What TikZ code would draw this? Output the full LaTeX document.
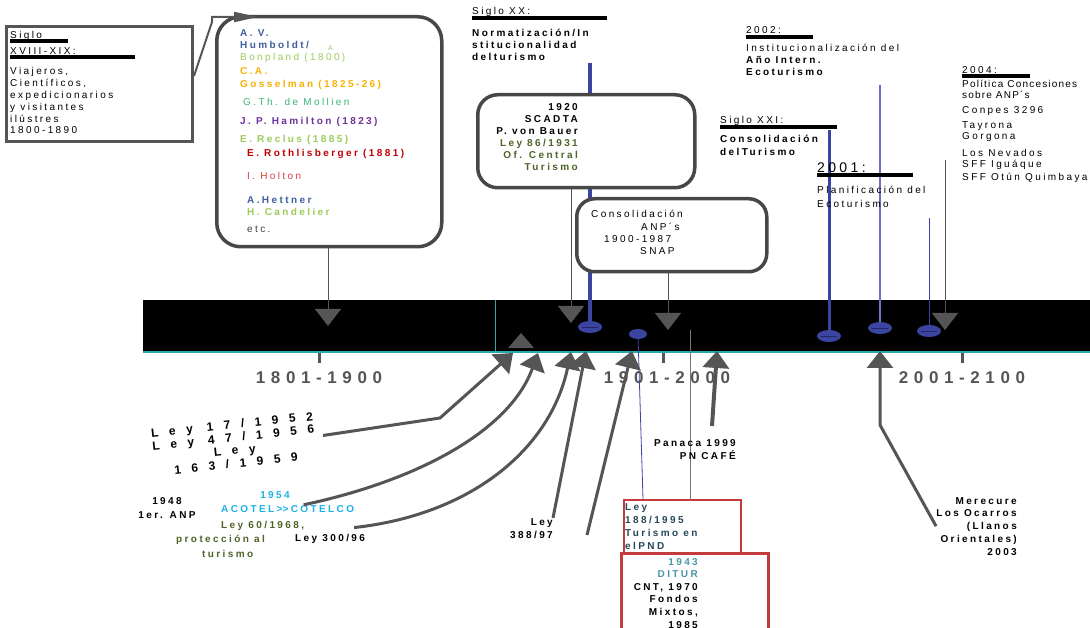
\documentclass[tikz,border=0pt]{standalone}
\usepackage{fontspec}
\setmainfont{Liberation Sans}[LetterSpace=24]
\usetikzlibrary{arrows.meta}
\usetikzlibrary{positioning}

\definecolor{boxgray}{HTML}{555555}
\definecolor{pinblue}{HTML}{3B44A0}
\definecolor{pinlight}{HTML}{6A72C4}
\definecolor{tealline}{HTML}{2AA8A8}
\definecolor{avblue}{HTML}{3F5F9F}
\definecolor{lgreen}{HTML}{9BCC5A}
\definecolor{gold}{HTML}{F9B200}
\definecolor{mgreen}{HTML}{3CB878}
\definecolor{purp}{HTML}{7030A0}
\definecolor{dred}{HTML}{C00000}
\definecolor{lred}{HTML}{E03C3C}
\definecolor{olivec}{HTML}{4F6228}
\definecolor{cyanc}{HTML}{1AB0E8}
\definecolor{boxred}{HTML}{C43C3E}
\definecolor{tealt}{HTML}{4A96A8}
\definecolor{tealdk}{HTML}{24485A}

\newcommand{\sz}{\fontsize{10}{12}\selectfont}

\begin{document}
\begin{tikzpicture}[x=1pt, y=-1pt,
		lbl/.style={anchor=base west, inner sep=0pt, font=\sz},
		lblb/.style={lbl, font=\sz\bfseries},
		lblr/.style={anchor=base east, inner sep=0pt, font=\sz\bfseries, align=right},
		yr/.style={anchor=base, inner sep=0pt, text=boxgray,
			font=\fontsize{17}{20}\selectfont\bfseries\addfontfeatures{LetterSpace=33}},
		bar/.style={line width=3.2pt},
		sbox/.style={draw=boxgray, line width=3pt, fill=white, inner sep=0pt},
		callout/.style={sbox, draw=black!72, line width=3.5pt, rounded corners=24pt},
		redbox/.style={draw=boxred, line width=2.5pt, fill=white, inner sep=0pt},
		conn/.style={boxgray, line width=1pt, -{Triangle[length=17pt,width=26pt]}},
		fat/.style={conn, line width=3pt}]
	
	\useasboundingbox (0,0) rectangle (1090,628);
	
	% time band
	\fill[black] (143,300) rectangle (1090,352);
	\draw[tealline, line width=1.5pt] (143,352) -- (1090,352);
	\draw[tealline, line width=1pt] (495,300) -- (495,352);
	\foreach \tx in {319,663,962}
	\draw[boxgray, line width=3pt] (\tx,353) -- (\tx,363);
	\node[yr] (c19) at (319,384) {1801-1900};
	\node[yr] (c20) at (667,384) {1901-2000};
	\node[yr] (c21) at (962,384) {2001-2100};
	
	% poles
	\draw[pinblue, line width=3.5pt] (590,63) -- (590,327);
	\draw[pinblue, line width=3pt] (829,130) -- (829,336);
	\draw[pinlight, line width=1.5pt] (880,85) -- (880,328);
	\draw[pinblue, line width=1pt] (929,218) -- (929,331);
	\draw[pinblue, line width=.8pt] (638,336) -- (643,499);
	\draw[boxgray!80, line width=1pt] (690,330) -- (690,499);
	\foreach \px/\py in {590/327,829/336,880/328,929/331}
	{\fill[pinblue] (\px,\py) ellipse [x radius=12, y radius=6];
		\draw[pinblue!60!black, line width=.5pt] (\px-8,\py) -- (\px+8,\py);}
	\fill[pinblue] (638,334) ellipse [x radius=9, y radius=5];
	
	% boxes
	\node[sbox, minimum width=186pt, minimum height=115pt, anchor=north west] (xix) at (5,25) {};
	\node[callout, minimum width=225pt, minimum height=230pt, anchor=north west] (viaj) at (215,15) {};
	\node[callout, rounded corners=20pt, minimum width=217pt, minimum height=93pt, anchor=north west] (scadta) at (476,93) {};
	\node[callout, rounded corners=18pt, minimum width=190pt, minimum height=73pt, anchor=north west] (anp) at (575,197) {};
	\node[redbox, line width=2pt, minimum width=117pt, minimum height=53pt, anchor=north west] (ley188) at (623,499) {};
	\node[redbox, line width=3pt, minimum width=147pt, minimum height=80pt, anchor=north west] (ditur) at (620,552) {};
	
	% siglo XVIII-XIX
	\node[lbl] (s1) at (10,39) {Siglo};
	\draw[bar] (10,41) -- (68,41);
	\node[lbl] (s2) at (10,55) {XVIII-XIX:};
	\draw[bar] (10,57) -- (135,57);
	\node[lbl, align=left, font=\fontsize{10}{11.8}\selectfont] (s3) at (10,134)
	{Viajeros,\\Científicos,\\expedicionarios\\y visitantes\\ilústres\\1800-1890};
	\draw[boxgray, line width=2pt, -{Triangle[length=24pt,width=10pt]}]
	(xix.east |- 0,76) -- (212,22) -- (212,17) -- (258,17);
	
	% viajeros
	\node[lblb, text=avblue] at (240,37) {A. V.};
	\node[lblb, text=avblue] at (240,49) {Humboldt/};
	\node[lbl, text=lgreen, font=\fontsize{7}{8}\selectfont] at (328,51) {A};
	\node[lbl, text=lgreen] at (240,61) {Bonpland (1800)};
	\node[lblb, text=gold] at (240,75) {C.A.};
	\node[lblb, text=gold] at (240,88) {Gosselman (1825-26)};
	\node[lbl, text=mgreen] at (243,106) {G.Th. de Mollien};
	\node[lblb, text=purp] at (240,125) {J. P. Hamilton (1823)};
	\node[lblb, text=lgreen] at (240,143) {E. Reclus (1885)};
	\node[lblb, text=dred] at (247,157) {E. Rothlisberger (1881)};
	\node[lbl, text=lred] at (247,180) {I. Holton};
	\node[lblb, text=avblue] at (247,204) {A.Hettner};
	\node[lblb, text=lgreen] at (247,216) {H. Candelier};
	\node[lbl, text=black!75] at (247,233) {etc.};
	
	% siglo XX
	\node[lbl] (xx) at (472,15) {Siglo XX:};
	\draw[bar] (472,18) -- (607,18);
	\node[lblb, align=left] (xxt) at (472,61) {Normatización/In\\stitucionalidad\\delturismo};
	\node[lblr] (sc) at (578,171) {1920\\SCADTA\\P. von Bauer\\\textcolor{olivec}{Ley 86/1931}\\
		\textcolor{olivec}{Of. Central}\\\textcolor{olivec}{Turismo}};
	\node[lbl] at (591,218) {Consolidación};
	\node[lbl] at (641,231) {ANP´s};
	\node[lbl] at (604,243) {1900-1987};
	\node[lbl] at (640,255) {SNAP};
	
	% 2002
	\node[lbl] (y02) at (746,34) {2002:};
	\draw[bar] (746,37) -- (813,37);
	\node[lbl] at (746,52) {Institucionalización del};
	\node[lblb, align=left] at (746,76) {Año Intern.\\Ecoturismo};
	
	% siglo XXI
	\node[lbl] (xxi) at (720,124) {Siglo XXI:};
	\draw[bar] (720,127) -- (837,127);
	\node[lblb, align=left] at (720,156) {Consolidación\\[1pt]delTurismo};
	
	% 2001
	\node[lbl, font=\fontsize{14}{16}\selectfont] (y01) at (817,173) {2001:};
	\draw[bar] (817,175) -- (913,175);
	\node[lbl, align=left, font=\fontsize{10}{14}\selectfont] at (817,208) {Planificación del\\Ecoturismo};
	
	% 2004
	\node[lbl] (y04) at (962,74) {2004:};
	\draw[bar] (962,76) -- (1030,76);
	\node[lbl, align=left, font=\fontsize{10}{11}\selectfont\addfontfeatures{LetterSpace=12}] at (962,99)
	{Política Concesiones\\sobre ANP´s};
	\node[lbl] at (962,114) {Conpes 3296};
	\node[lbl, align=left, font=\fontsize{10}{11}\selectfont] at (962,140) {Tayrona\\Gorgona};
	\node[lbl, align=left, font=\fontsize{10}{11}\selectfont] at (962,181) {Los Nevados\\SFF Iguáque\\[2pt]SFF Otún Quimbaya};
	
	% labels below
	\node[lblb, rotate=6, align=center, anchor=center,
	font=\fontsize{12}{13}\selectfont\bfseries\addfontfeatures{LetterSpace=88}] (ley17) at (234,444)
	{Ley 17/1952\\Ley 47/1956\\Ley\\163/1959};
	\node[lblb, align=center, anchor=base] (anp48) at (167,518) {1948\\[2pt]1er. ANP};
	\node[lblb, text=cyanc, anchor=base] (y54) at (275,498) {1954};
	\node[lblb, text=cyanc] (acotel) at (221,512) {ACOTEL>\kern0pt>COTELCO};
	\node[lblb, text=olivec] (l60) at (221,528) {Ley 60/1968,};
	\node[lblb, text=olivec] at (176,542) {protección al};
	\node[lblb, text=olivec] at (202,557) {turismo};
	\node[lblb] (l300) at (295,541) {Ley 300/96};
	\node[lblr] (l388) at (553,538) {Ley\\[1pt]388/97};
	\node[lblr] (panaca) at (736,459) {Panaca 1999\\[1pt]PN CAFÉ};
	\node[lblr, font=\fontsize{10}{12.7}\selectfont\bfseries] (merec) at (1017,555)
	{Merecure\\Los Ocarros\\(Llanos\\Orientales)\\2003};
	\node[lblb, text=tealdk, align=left] at (625,549) {Ley\\[1pt]188/1995\\[1pt]Turismo en\\[1pt]elPND};
	\node[lblr, font=\fontsize{10}{12.6}\selectfont\bfseries] at (698,628)
	{\textcolor{tealt}{1943}\\\textcolor{tealt}{DITUR}\\CNT, 1970\\Fondos\\Mixtos,\\1985};
	
	% arrow ends
	\coordinate (tA) at (328,326);
	\coordinate (tB) at (571,323);
	\coordinate (tC) at (668,330);
	\coordinate (tD) at (945,330);
	\coordinate (gD) at (945,160);
	\coordinate (uA) at (513,353);
	\coordinate (uB) at (538,353);
	\coordinate (uC) at (571,352);
	\coordinate (uD) at (586,351);
	\coordinate (uE) at (632,351);
	\coordinate (uF) at (717,351);
	\coordinate (uG) at (880,351);
	\coordinate (eS) at (587,535);
	\coordinate (pS) at (712,426);
	
	% down arrows
	\draw[conn] (viaj.south -| tA) -- (tA);
	\draw[conn] (scadta.south -| tB) -- (tB);
	\draw[conn] (anp.south -| tC) -- (tC);
	\draw[conn] (gD) -- (tD);
	\fill[boxgray] (508,348) -- (534,348) -- (521,333) -- cycle;
	
	% up arrows
	\draw[fat] ([xshift=8pt]ley17.east) -- (440,418) -- (uA);
	\draw[fat] ([xshift=16pt]acotel.north) .. controls (420,480) and (510,430) .. (uB);
	\draw[fat] ([xshift=24pt,yshift=6pt]l300.north) .. controls (470,515) and (550,450) .. (uC);
	\draw[fat] (l388.north east) -- (uD);
	\draw[fat] (eS) -- (uE);
	\draw[fat, line width=4pt] (pS) -- (uF);
	\draw[fat] (merec.west) -- (880,425) -- (uG);
	
\end{tikzpicture}
\end{document}
